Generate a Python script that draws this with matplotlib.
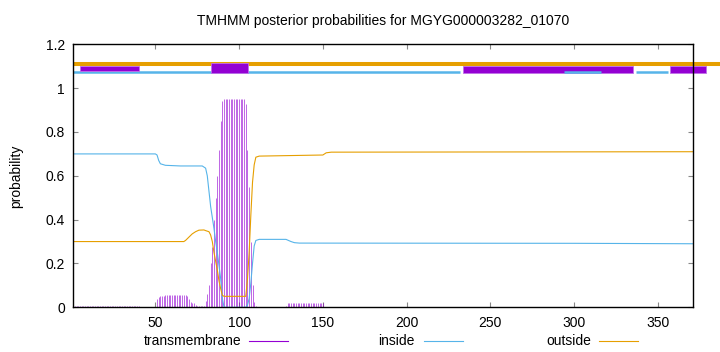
"""
TMHMM posterior probability plot untuk MGYG000003282_01070.
Garis inside/outside, impulses transmembrane, dan track topologi di atas.
"""
import matplotlib
matplotlib.use("Agg")
import matplotlib.pyplot as plt
from matplotlib.lines import Line2D
from matplotlib.patches import Rectangle

# ==========================================
# DATA
# ==========================================
SEQ_LEN = 371
TITLE = "TMHMM posterior probabilities for MGYG000003282_01070"

# inside probability (residue, prob)
inside_res = [1, 50, 51, 52, 53, 56, 65, 78, 80, 81, 82, 83, 84, 85, 86, 87, 88,
              89, 90, 91, 104, 105, 106, 107, 108, 109, 110, 112, 128, 131, 133,
              136, 300, 371]
inside_prob = [0.70, 0.70, 0.695, 0.67, 0.655, 0.648, 0.645, 0.645, 0.635, 0.60,
               0.53, 0.46, 0.41, 0.36, 0.30, 0.25, 0.19, 0.13, 0.04, 0.0, 0.0,
               0.01, 0.04, 0.11, 0.20, 0.28, 0.305, 0.31, 0.31, 0.30, 0.295,
               0.293, 0.292, 0.29]

# outside probability
outside_res = [1, 67, 68, 70, 72, 74, 76, 79, 80, 82, 83, 84, 85, 86, 87, 88, 89,
               90, 91, 103, 104, 105, 106, 107, 108, 109, 110, 112, 150, 152,
               155, 371]
outside_prob = [0.30, 0.30, 0.305, 0.32, 0.335, 0.345, 0.352, 0.353, 0.35, 0.345,
                0.33, 0.30, 0.25, 0.21, 0.17, 0.12, 0.085, 0.055, 0.05, 0.05,
                0.05, 0.13, 0.25, 0.42, 0.57, 0.65, 0.685, 0.69, 0.695, 0.705,
                0.708, 0.71]

# transmembrane per residue (segmen: residue awal, nilai)
tm_segments = [
    (1, [0.004] * 40),
    (51, [0.04, 0.048, 0.05, 0.052, 0.053, 0.055] + [0.057] * 11 +
         [0.055, 0.05, 0.04, 0.025, 0.02, 0.018, 0.01, 0.005,
          0.004, 0.004, 0.004, 0.004]),
    (80, [0.03, 0.06, 0.10, 0.20, 0.277, 0.40, 0.50, 0.60, 0.72, 0.85, 0.94] +
         [0.95] * 13 + [0.93, 0.72, 0.55, 0.30, 0.10, 0.026, 0.005]),
    (111, [0.002] * 17),
    (128, [0.008] + [0.018] * 22),
    (251, [0.003] * 52),
]

# track topologi di atas (start, end)
outside_track = [(1, 395)]
inside_track = [(1, 232), (294, 316), (337, 356)]
tm_boxes = [(5, 40, 1.078, 1.100), (83.5, 105.6, 1.068, 1.114),
            (233.6, 335.4, 1.068, 1.100), (357, 378.6, 1.068, 1.100)]

# ==========================================

PURPLE = "#9400d3"
BLUE = "#56b4e9"
ORANGE = "#e69f00"

plt.rcParams['font.family'] = ['Liberation Sans', 'DejaVu Sans']
plt.rcParams['font.size'] = 10

fig = plt.figure(figsize=(7.2, 3.52), dpi=100)
ax = fig.add_axes([0.1018, 0.127, 0.8607, 0.747])

# TM impulses
tm_x, tm_y = [], []
for start, vals in tm_segments:
    for i, v in enumerate(vals):
        tm_x.append(start + i)
        tm_y.append(v)
ax.vlines(tm_x, 0, tm_y, color=PURPLE, lw=0.7, alpha=0.6)

ax.plot(inside_res, inside_prob, color=BLUE, lw=0.8)
ax.plot(outside_res, outside_prob, color=ORANGE, lw=0.8)

# top tracks
for s, e in outside_track:
    ax.plot([s, e], [1.11, 1.11], color=ORANGE, lw=2.9,
            solid_capstyle='butt', clip_on=False, zorder=2)
for s, e in inside_track[:1]:
    ax.plot([s, e], [1.073, 1.073], color=BLUE, lw=1.8,
            solid_capstyle='butt', clip_on=False, zorder=2)
for s, e, y0, y1 in tm_boxes:
    ax.add_patch(Rectangle((s, y0), e - s, y1 - y0, facecolor=PURPLE,
                           edgecolor='#c070e8', lw=0.6, clip_on=False,
                           zorder=3))
for s, e in inside_track[1:]:
    ax.plot([s, e], [1.073, 1.073], color=BLUE, lw=1.8,
            solid_capstyle='butt', clip_on=False, zorder=4)

ax.set_xlim(1, SEQ_LEN)
ax.set_ylim(0, 1.2)
ax.set_xticks([50, 100, 150, 200, 250, 300, 350])
ax.set_yticks([0, 0.2, 0.4, 0.6, 0.8, 1.0, 1.2])
ax.set_yticklabels(["0", "0.2", "0.4", "0.6", "0.8", "1", "1.2"])
ax.tick_params(direction='in', length=3.5, width=0.8, color='#888888',
               top=True, right=True, pad=6)
for sp in ax.spines.values():
    sp.set_linewidth(1.0)
    sp.set_zorder(5)

ax.set_ylabel("probability", labelpad=16)
ax.set_title(TITLE, pad=14, fontsize=10)

# legend di bawah: teks lalu sampel garis
legend_items = [("transmembrane", PURPLE, 241, 249, 288),
                ("inside", BLUE, 415, 424, 463),
                ("outside", ORANGE, 591, 599, 638)]
y_leg = 1 - 341 / 352
for label, col, tx, lx0, lx1 in legend_items:
    fig.text(tx / 720, y_leg, label, ha='right', va='center')
    fig.add_artist(Line2D([lx0 / 720, lx1 / 720], [y_leg, y_leg],
                          color=col, lw=0.8))

fig.savefig("out.png", dpi=100)
